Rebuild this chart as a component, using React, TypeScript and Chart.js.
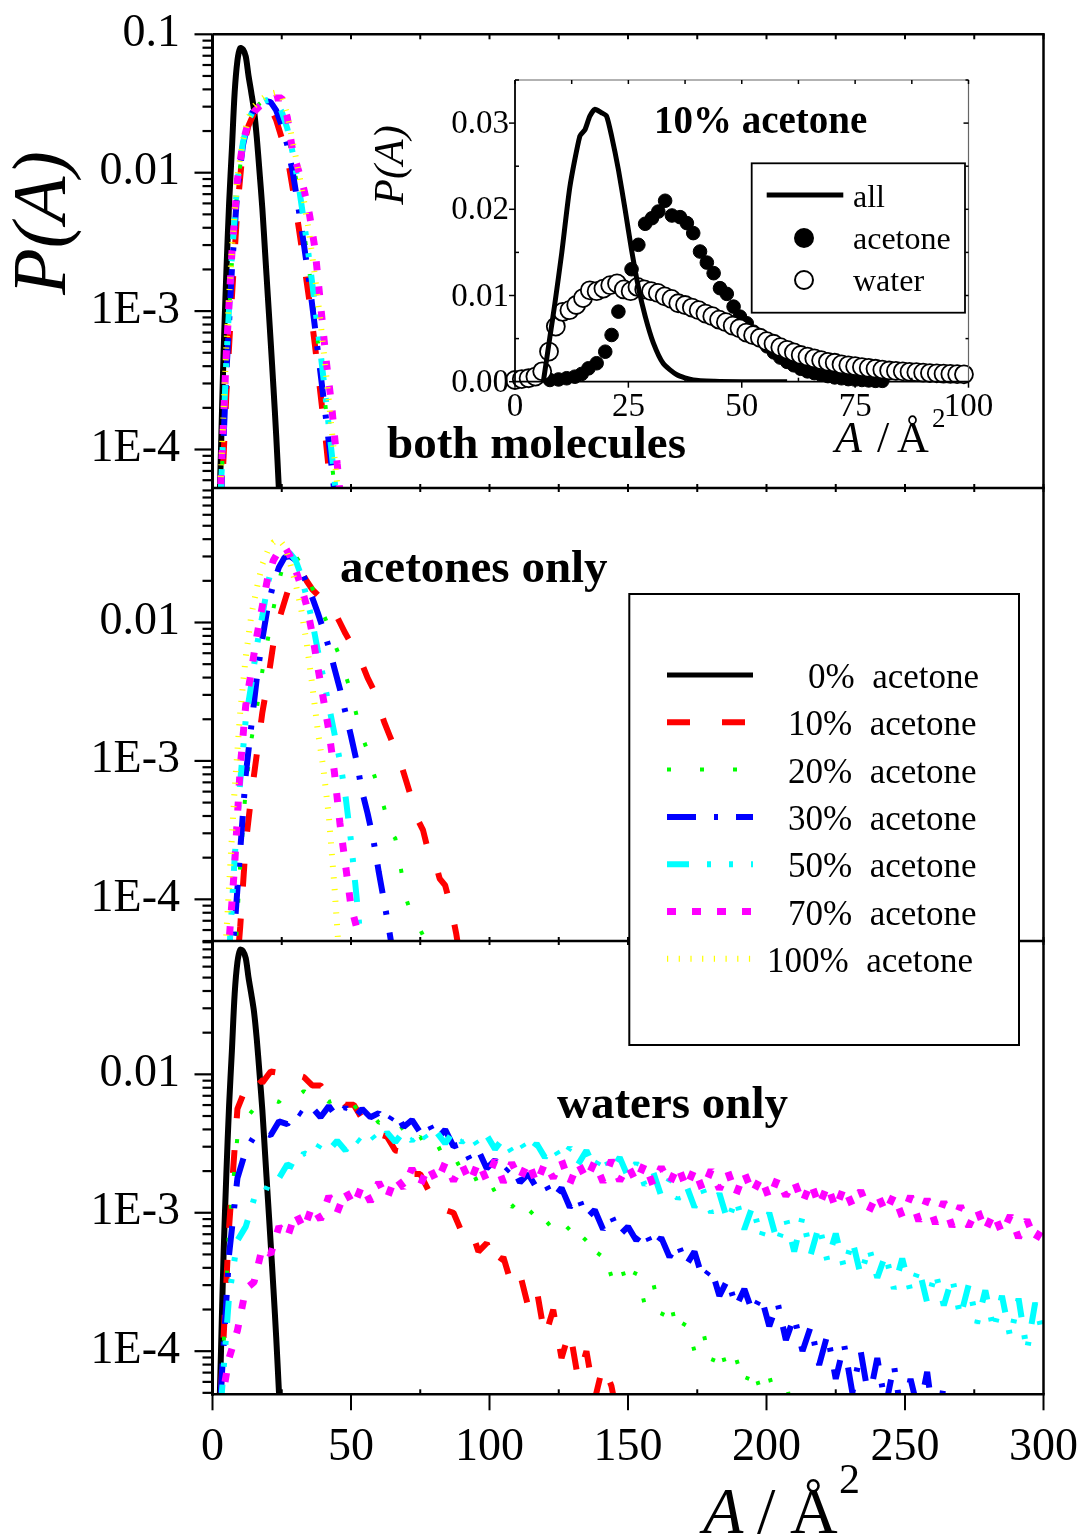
import { useEffect, useRef } from "react";
import { Chart, registerables } from "chart.js";

Chart.register(...registerables);

const SERIF = "'Liberation Serif', 'Times New Roman', Times, serif";
const CANVAS_W = 1086;
const CANVAS_H = 1539;

// ---------------- data ----------------
// Surface-area distributions P(A); main panels are stored as decimal exponents (log10 P)

// pure water (0% acetone), shared by "both molecules" and "waters only"
const pureA = [2, 3, 4, 5, 6, 7, 8, 9, 10, 11, 12, 13, 14, 15, 16, 17, 18, 19, 20, 21, 22, 23, 24, 25];
const pureWaterExp = [-4.8, -4.05, -3.3, -2.72, -2.22, -1.83, -1.42, -1.19, -1.1, -1.11, -1.16, -1.3, -1.42, -1.55, -1.75, -2.0, -2.26, -2.58, -2.9, -3.22, -3.55, -3.9, -4.3, -4.7];

// both molecules
const bothA = [3, 5, 7, 9, 11, 13, 15, 17, 19, 21, 23, 25, 27, 29, 31, 33, 35, 37, 39, 41, 43, 45, 47];
const both10 = [-4.5, -3.6, -2.9, -2.25, -1.82, -1.66, -1.57, -1.52, -1.49, -1.53, -1.62, -1.75, -1.88, -2.12, -2.38, -2.65, -2.93, -3.25, -3.6, -3.95, -4.35, -4.8, -5.2];
const both20 = [-4.35, -3.4, -2.65, -2.1, -1.8, -1.63, -1.55, -1.5, -1.47, -1.46, -1.5, -1.6, -1.72, -1.9, -2.15, -2.42, -2.72, -3.05, -3.38, -3.72, -4.08, -4.45, -4.85];
const both30 = [-4.4, -3.45, -2.7, -2.12, -1.8, -1.62, -1.54, -1.5, -1.48, -1.49, -1.55, -1.66, -1.8, -2.0, -2.25, -2.52, -2.8, -3.12, -3.45, -3.78, -4.12, -4.5, -4.9];
const both50 = [-4.3, -3.35, -2.6, -2.06, -1.78, -1.62, -1.54, -1.5, -1.48, -1.47, -1.49, -1.56, -1.68, -1.86, -2.08, -2.35, -2.64, -2.96, -3.3, -3.65, -4.02, -4.4, -4.8];
const both70 = [-4.25, -3.3, -2.58, -2.05, -1.78, -1.63, -1.56, -1.52, -1.49, -1.47, -1.46, -1.46, -1.6, -1.85, -1.98, -2.12, -2.3, -2.55, -2.95, -3.35, -3.68, -4.1, -4.5];
const both100 = [-4.2, -3.25, -2.55, -2.03, -1.76, -1.6, -1.52, -1.48, -1.45, -1.43, -1.42, -1.45, -1.58, -1.78, -1.98, -2.2, -2.45, -2.75, -3.08, -3.45, -3.85, -4.25, -4.65];

// acetones only
const acetA = [4, 6, 8, 10, 12, 14, 16, 18, 20, 22, 24, 26, 28, 30, 32, 34, 36, 38, 40, 42, 44, 46, 48, 50, 52, 54, 56, 58, 60, 62, 64, 66, 68, 70, 72, 74, 76, 78, 80, 82, 84, 86, 88, 90];
const acet10 = [null, null, -4.7, -4.2, -3.6, -3.25, -2.95, -2.65, -2.42, -2.15, -1.98, -1.85, -1.72, -1.66, -1.63, -1.7, -1.76, -1.8, -1.82, -1.86, -1.92, -2.0, -2.08, -2.15, -2.22, -2.3, -2.4, -2.48, -2.6, -2.72, -2.82, -2.92, -3.02, -3.15, -3.28, -3.42, -3.5, -3.66, -3.7, -3.85, -3.9, -4.05, -4.25, -4.5];
const acet20 = [null, null, -4.5, -3.75, -3.2, -2.85, -2.62, -2.35, -2.12, -1.9, -1.7, -1.55, -1.5, -1.52, -1.58, -1.65, -1.75, -1.84, -1.94, -2.03, -2.15, -2.25, -2.38, -2.5, -2.67, -2.82, -2.93, -3.08, -3.2, -3.34, -3.5, -3.56, -3.78, -4.0, -4.12, -4.18, -4.26, -4.3, -4.35, -4.3, -4.5, -4.7];
const acet30 = [null, -4.6, -4.2, -3.65, -3.1, -2.75, -2.4, -2.12, -1.88, -1.72, -1.6, -1.53, -1.52, -1.55, -1.62, -1.72, -1.82, -1.93, -2.05, -2.18, -2.33, -2.48, -2.65, -2.82, -3.0, -3.22, -3.38, -3.56, -3.8, -4.02, -4.25, -4.5];
const acet50 = [null, -4.4, -3.7, -3.15, -2.7, -2.45, -2.17, -1.95, -1.72, -1.55, -1.48, -1.47, -1.5, -1.55, -1.66, -1.82, -1.99, -2.2, -2.4, -2.6, -2.8, -3.0, -3.25, -3.58, -3.98, -4.4];
const acet70 = [-4.8, -4.3, -3.75, -3.05, -2.6, -2.35, -2.1, -1.88, -1.67, -1.55, -1.48, -1.45, -1.52, -1.62, -1.74, -1.88, -2.08, -2.32, -2.55, -2.78, -3.08, -3.45, -3.75, -4.05, -4.2, -4.5];
const acet100 = [-4.6, -3.9, -3.2, -2.65, -2.25, -1.95, -1.75, -1.58, -1.48, -1.42, -1.4, -1.45, -1.57, -1.72, -1.9, -2.15, -2.45, -2.78, -3.05, -3.4, -3.9, -4.5];

// waters only
const waterA = [3, 6, 9, 12, 15, 18, 21, 24, 27, 30, 33, 36, 39, 42, 45, 48, 51, 54, 57, 60, 63, 66, 69, 72, 75, 78, 81, 84, 87, 90, 93, 96, 99, 102, 105, 108, 111, 114, 117, 120, 123, 126, 129, 132, 135, 138, 141, 144, 147, 150, 153, 156, 159, 162, 165, 168, 171, 174, 177, 180, 183, 186, 189, 192, 195, 198, 201, 204, 207, 210, 213, 216, 219, 222, 225, 228, 231, 234, 237, 240, 243, 246, 249, 252, 255, 258, 261, 264, 267, 270, 273, 276, 279, 282, 285, 288, 291, 294, 297, 300];
const water10 = [-4.3, -3.1, -2.25, -2.1, -2.0, -2.06, -1.98, -1.99, -1.95, -2.0,
  -2.02, -2.08, -2.08, -2.16, -2.15, -2.22, -2.22, -2.32, -2.33, -2.43,
  -2.45, -2.55, -2.56, -2.72, -2.72, -2.84, -2.85, -2.98, -3.0, -3.14,
  -3.1, -3.28, -3.22, -3.4, -3.32, -3.52, -3.44, -3.68, -3.55, -3.9,
  -3.7, -4.05, -3.85, -4.2, -4.0, -4.35, -4.1, -4.25, -4.55];
const water20 = [-4.4, -3.1, -2.45, -2.32, -2.25, -2.24, -2.18, -2.2, -2.13, -2.17,
  -2.12, -2.18, -2.15, -2.2, -2.18, -2.25, -2.22, -2.3, -2.27, -2.35,
  -2.33, -2.42, -2.38, -2.5, -2.45, -2.56, -2.5, -2.62, -2.58, -2.7,
  -2.66, -2.8, -2.74, -2.85, -2.83, -2.96, -2.9, -3.02, -2.96, -3.1,
  -3.05, -3.16, -3.1, -3.24, -3.18, -3.34, -3.26, -3.46, -3.35, -3.55,
  -3.42, -3.66, -3.5, -3.75, -3.62, -3.88, -3.78, -4.0, -3.85, -4.1,
  -3.95, -4.15, -4.05, -4.25, -4.1, -4.3, -4.18, -4.4, -4.22, -4.5];
const water30 = [-4.3, -3.3, -2.75, -2.55, -2.45, -2.42, -2.44, -2.34, -2.36, -2.26,
  -2.3, -2.24, -2.31, -2.23, -2.31, -2.24, -2.32, -2.25, -2.31, -2.28,
  -2.36, -2.27, -2.38, -2.33, -2.42, -2.35, -2.47, -2.4, -2.52, -2.5,
  -2.62, -2.55, -2.68, -2.62, -2.72, -2.66, -2.78, -2.72, -2.82, -2.78,
  -2.9, -2.82, -2.96, -2.88, -3.04, -2.98, -3.12, -3.02, -3.16, -3.1,
  -3.2, -3.12, -3.26, -3.18, -3.32, -3.22, -3.38, -3.28, -3.48, -3.4,
  -3.6, -3.48, -3.68, -3.55, -3.72, -3.6, -3.82, -3.65, -3.92, -3.75,
  -4.0, -3.82, -4.1, -3.88, -4.2, -3.95, -4.3, -4.0, -4.35, -4.05,
  -4.4, -4.1, -4.5, -4.2, -4.45, -4.15, -4.6, -4.25];
const water50 = [-4.4, -3.6, -3.2, -3.1, -2.9, -2.9, -2.75, -2.75, -2.65, -2.68,
  -2.57, -2.6, -2.5, -2.55, -2.48, -2.55, -2.45, -2.5, -2.43, -2.5,
  -2.42, -2.49, -2.41, -2.48, -2.4, -2.49, -2.42, -2.5, -2.41, -2.49,
  -2.43, -2.52, -2.44, -2.54, -2.46, -2.56, -2.48, -2.58, -2.5, -2.6,
  -2.52, -2.62, -2.53, -2.65, -2.55, -2.68, -2.57, -2.7, -2.6, -2.74,
  -2.64, -2.8, -2.7, -2.88, -2.76, -2.9, -2.8, -2.96, -2.83, -3.0,
  -2.86, -3.06, -2.9, -3.12, -2.95, -3.18, -3.0, -3.22, -3.04, -3.28,
  -3.03, -3.3, -3.09, -3.35, -3.15, -3.4, -3.2, -3.45, -3.25, -3.47,
  -3.3, -3.55, -3.33, -3.57, -3.4, -3.65, -3.43, -3.67, -3.47, -3.75,
  -3.52, -3.8, -3.56, -3.85, -3.6, -3.9, -3.62, -4.0, -3.65, -3.9];
const water70 = [-4.4, -4.05, -3.85, -3.55, -3.5, -3.25, -3.3, -3.1, -3.18, -3.0,
  -3.12, -2.95, -3.05, -2.88, -3.0, -2.84, -2.95, -2.8, -2.92, -2.78,
  -2.9, -2.74, -2.82, -2.68, -2.8, -2.66, -2.78, -2.64, -2.77, -2.65,
  -2.78, -2.63, -2.77, -2.62, -2.78, -2.64, -2.76, -2.63, -2.79, -2.64,
  -2.75, -2.62, -2.79, -2.64, -2.76, -2.63, -2.78, -2.62, -2.77, -2.66,
  -2.78, -2.64, -2.8, -2.67, -2.79, -2.66, -2.82, -2.68, -2.84, -2.69,
  -2.83, -2.7, -2.87, -2.71, -2.86, -2.74, -2.9, -2.75, -2.88, -2.77,
  -2.93, -2.78, -2.95, -2.8, -2.97, -2.81, -2.95, -2.84, -2.99, -2.86,
  -3.0, -2.87, -3.03, -2.88, -3.06, -2.9, -3.08, -2.92, -3.1, -2.95,
  -3.1, -2.97, -3.13, -3.0, -3.15, -3.02, -3.18, -3.05, -3.2, -3.1];

// inset: 10% acetone, linear P(A)
const insetAllA = [6.25, 7.7, 8.8, 10.3, 12.1, 14.3, 15.4, 16.5, 17.6, 19.1, 20.2, 21.3, 22.8, 24.3, 25.7, 27.2, 28.7, 30.5, 32.7, 35.7, 39.3, 44, 50, 60];
const insetAllP = [0, 0.0052, 0.0091, 0.0149, 0.0226, 0.0285, 0.0292, 0.0308, 0.0316, 0.0312, 0.0308, 0.0285, 0.0246, 0.0199, 0.0153, 0.011, 0.0076, 0.0045, 0.0021, 0.0008, 0.0002, 0.00005, 0, 0];
const insetAcetA = [7.7, 9.6, 11.4, 13.2, 14.7, 16.2, 18.0, 19.9, 21.3, 22.8, 24.2, 25.7, 27.2, 28.7, 30.2, 31.6, 33.1, 34.6, 36.4, 37.9, 39.3, 40.8, 42.3, 43.8, 45.2, 46.7, 48.2, 49.6, 51.1, 52.6, 54.1, 55.6, 57.1, 58.5, 60.0, 61.5, 63.0, 64.5, 66.0, 67.5, 69.0, 70.5, 72.0, 73.5, 75.0, 76.5, 78.0, 79.5, 81.0];
const insetAcetP = [0.0002, 0.00026, 0.0004, 0.00058, 0.0009, 0.00155, 0.00214, 0.00348, 0.00542, 0.00813, 0.0106, 0.01305, 0.01588, 0.01832, 0.01897, 0.01974, 0.02099, 0.01928, 0.01909, 0.0184, 0.01724, 0.0151, 0.01382, 0.01259, 0.01085, 0.01019, 0.00871, 0.00755, 0.00678, 0.0058, 0.0049, 0.0041, 0.0034, 0.0028, 0.0023, 0.0019, 0.0015, 0.0012, 0.001, 0.0008, 0.00065, 0.0005, 0.0004, 0.0003, 0.00025, 0.0002, 0.00015, 0.0001, 0.0001];
const insetWaterA = [0, 1.5, 3, 4.5, 6, 7.5, 9, 10.5, 12, 13.5, 15, 16.5, 18, 19.5, 21, 22.5, 24, 25.5, 27, 28.5, 30, 31.5, 33, 34.5, 36, 37.5, 39, 40.5, 42, 43.5, 45, 46.5, 48, 49.5, 51, 52.5, 54, 55.5, 57, 58.5, 60, 61.5, 63, 64.5, 66, 67.5, 69, 70.5, 72, 73.5, 75, 76.5, 78, 79.5, 81, 82.5, 84, 85.5, 87, 88.5, 90, 91.5, 93, 94.5, 96, 97.5, 99];
const insetWaterP = [0.0002, 0.0003, 0.0004, 0.0006, 0.0012, 0.0035, 0.0064, 0.0081, 0.0083, 0.0089,
  0.0097, 0.0106, 0.0105, 0.0108, 0.0112, 0.0114, 0.0107, 0.0105, 0.011, 0.0107,
  0.0105, 0.0103, 0.0099, 0.0096, 0.0091, 0.0089, 0.0086, 0.0083, 0.0079, 0.0076,
  0.0072, 0.0069, 0.0065, 0.0062, 0.0057, 0.0054, 0.0051, 0.0047, 0.0044, 0.004,
  0.0037, 0.0034, 0.0031, 0.0029, 0.0027, 0.0025, 0.0023, 0.0022, 0.002, 0.0019,
  0.0018, 0.0017, 0.0016, 0.0015, 0.0014, 0.0013, 0.00125, 0.0012, 0.00115, 0.0011,
  0.00105, 0.001, 0.00097, 0.00093, 0.0009, 0.00087, 0.00085];

// tick labels
const decadeLabels: [number, string][] = [[0.1, "0.1"], [0.01, "0.01"], [1e-3, "1E-3"], [1e-4, "1E-4"]];
const areaTickLabels = [0, 50, 100, 150, 200, 250, 300];
const insetYLabels: [number, string][] = [[0, "0.00"], [0.01, "0.01"], [0.02, "0.02"], [0.03, "0.03"]];
const insetXLabels = [0, 25, 50, 75, 100];
const seriesNames = ["0%  acetone", "10%  acetone", "20%  acetone", "30%  acetone", "50%  acetone", "70%  acetone", "100%  acetone"];

// ---------------- styling / layout ----------------
type LineStyle = { color: string; width: number; dash: number[] };
const STYLES: LineStyle[] = [
  { color: "#000000", width: 6, dash: [] },
  { color: "#ff0000", width: 6, dash: [23, 32] },
  { color: "#00ff00", width: 4, dash: [4, 29] },
  { color: "#0000ff", width: 6, dash: [29, 18, 4, 18] },
  { color: "#00ffff", width: 6, dash: [22, 18, 4, 18, 4, 18] },
  { color: "#ff00ff", width: 7, dash: [9, 16] },
  { color: "#ffff00", width: 6, dash: [1.2, 10.5] },
];
const LEGEND_TEXT_X = [808, 788, 788, 788, 788, 788, 767];

const FRAME_LEFT = 212.5;
const FRAME_RIGHT = 1043.5;
const PANELS = [
  { top: 34.3, bottom: 488, min: 5.27e-5, max: 0.1, title: "both molecules", tx: 387, ty: 458 },
  { top: 488, bottom: 941, min: 5.0e-5, max: 0.0937, title: "acetones only", tx: 340, ty: 582 },
  { top: 941, bottom: 1394.3, min: 4.88e-5, max: 0.0919, title: "waters only", tx: 557, ty: 1118 },
];
const INSET = { left: 515, right: 968.5, top: 80, bottom: 381.7 };

function decadePoints(xs: number[], exps: (number | null)[]) {
  const pts: { x: number; y: number }[] = [];
  for (let i = 0; i < exps.length; i++) {
    const e = exps[i];
    if (e === null) continue;
    pts.push({ x: xs[i], y: Math.pow(10, e) });
  }
  return pts;
}

function linearPoints(xs: number[], ys: number[]) {
  return ys.map((y, i) => ({ x: xs[i], y }));
}

function lineSet(label: string, data: { x: number; y: number }[], s: LineStyle, order: number, tension = 0) {
  return {
    label,
    data,
    borderColor: s.color,
    backgroundColor: s.color,
    borderWidth: s.width,
    borderDash: s.dash,
    borderCapStyle: "butt",
    borderJoinStyle: "bevel",
    pointRadius: 0,
    tension,
    fill: false,
    clip: 0,
    order,
  };
}

function seg(ctx: CanvasRenderingContext2D, x1: number, y1: number, x2: number, y2: number) {
  ctx.beginPath();
  ctx.moveTo(x1, y1);
  ctx.lineTo(x2, y2);
  ctx.stroke();
}

function drawMainLegend(ctx: CanvasRenderingContext2D) {
  ctx.save();
  ctx.fillStyle = "#fff";
  ctx.fillRect(629.3, 594, 389.7, 451);
  ctx.strokeStyle = "#000";
  ctx.lineWidth = 2;
  ctx.setLineDash([]);
  ctx.strokeRect(629.3, 594, 389.7, 451);
  ctx.font = `35px ${SERIF}`;
  ctx.textAlign = "left";
  ctx.textBaseline = "alphabetic";
  for (let i = 0; i < STYLES.length; i++) {
    const y = 675 + 47.3 * i;
    const s = STYLES[i];
    ctx.strokeStyle = s.color;
    ctx.lineWidth = i === 0 ? 5 : s.width;
    ctx.lineCap = "butt";
    ctx.setLineDash(s.dash);
    seg(ctx, 667, y, 753, y);
    ctx.setLineDash([]);
    ctx.fillStyle = "#000";
    ctx.fillText(seriesNames[i], LEGEND_TEXT_X[i], y + 13);
  }
  ctx.restore();
}

// "A / Å²" axis title, pieces placed at the given x positions
function drawAreaTitle(ctx: CanvasRenderingContext2D, xs: number[], base: number, size: number, supSize: number, supRaise: number) {
  ctx.textAlign = "left";
  ctx.textBaseline = "alphabetic";
  ctx.font = `italic ${size}px ${SERIF}`;
  ctx.fillText("A", xs[0], base);
  ctx.font = `${size}px ${SERIF}`;
  ctx.fillText("/", xs[1], base);
  ctx.fillText("Å", xs[2], base);
  ctx.font = `${supSize}px ${SERIF}`;
  ctx.fillText("2", xs[3], base - supRaise);
}

function panelDecor(index: number) {
  const p = PANELS[index];
  return {
    id: `panelDecor${index}`,
    afterDraw(chart: any) {
      const ctx: CanvasRenderingContext2D = chart.ctx;
      const a = chart.chartArea;
      const xs = chart.scales.x;
      const ys = chart.scales.y;
      ctx.save();
      ctx.strokeStyle = "#000";
      ctx.fillStyle = "#000";
      ctx.lineCap = "butt";
      ctx.setLineDash([]);

      // decade ticks outside the left axis
      ctx.lineWidth = 2.2;
      for (let e = -5; e <= -1; e++) {
        for (let m = 1; m <= 9; m++) {
          const v = m * Math.pow(10, e);
          if (v < ys.min || v > ys.max * 1.0001) continue;
          const py = ys.getPixelForValue(v);
          seg(ctx, a.left, py, a.left - (m === 1 ? 18 : 10), py);
        }
      }
      ctx.font = `46px ${SERIF}`;
      ctx.textAlign = "right";
      ctx.textBaseline = "alphabetic";
      for (const [v, text] of decadeLabels) {
        if (v < ys.min || v > ys.max * 1.0001) continue;
        ctx.fillText(text, 180, ys.getPixelForValue(v) + 11.5);
      }

      // area ticks
      ctx.lineWidth = 2;
      for (let v = 0; v <= 300; v += 25) {
        const px = xs.getPixelForValue(v);
        if (index === 0) seg(ctx, px, a.top, px, a.top + 5);
        if (index < 2) {
          seg(ctx, px, a.bottom - 4, px, a.bottom + 4);
        } else if (v % 50 === 0) {
          seg(ctx, px, a.bottom, px, a.bottom + 16);
        } else {
          seg(ctx, px, a.bottom, px, a.bottom - 5);
        }
      }

      // frame
      ctx.lineWidth = 3;
      seg(ctx, a.left, a.top, a.left, a.bottom + 1.5);
      ctx.lineWidth = 2.5;
      seg(ctx, a.right, a.top, a.right, a.bottom);
      seg(ctx, a.left, a.bottom, a.right + 1.25, a.bottom);
      if (index === 0) seg(ctx, a.left, a.top, a.right + 1.25, a.top);

      // panel caption
      ctx.font = `bold 47px ${SERIF}`;
      ctx.textAlign = "left";
      ctx.fillText(p.title, p.tx, p.ty);

      if (index === 0) {
        ctx.save();
        ctx.translate(45, 223);
        ctx.rotate(-Math.PI / 2);
        ctx.font = `italic 76px ${SERIF}`;
        ctx.textAlign = "center";
        ctx.textBaseline = "middle";
        ctx.fillText("P(A)", 0, 0);
        ctx.restore();
      }

      if (index === 2) {
        ctx.font = `46px ${SERIF}`;
        ctx.textAlign = "center";
        for (const v of areaTickLabels) {
          ctx.fillText(String(v), xs.getPixelForValue(v), 1460);
        }
        drawAreaTitle(ctx, [703, 757, 790, 839], 1533, 66, 42, 40);
        drawMainLegend(ctx);
      }
      ctx.restore();
    },
  };
}

const insetDecor = {
  id: "insetDecor",
  afterDraw(chart: any) {
    const ctx: CanvasRenderingContext2D = chart.ctx;
    const a = chart.chartArea;
    const xs = chart.scales.x;
    const ys = chart.scales.y;
    ctx.save();
    ctx.setLineDash([]);
    ctx.lineCap = "butt";

    // light top / right border
    ctx.strokeStyle = "#666";
    ctx.lineWidth = 1.2;
    seg(ctx, a.left, a.top, a.right, a.top);
    seg(ctx, a.right, a.top, a.right, a.bottom);

    ctx.strokeStyle = "#000";
    ctx.lineWidth = 1.5;
    for (let v = 0; v <= 0.0351; v += 0.005) {
      const py = ys.getPixelForValue(v);
      const major = Math.abs(v / 0.01 - Math.round(v / 0.01)) < 1e-6;
      if (major) {
        seg(ctx, a.left - 6, py, a.left, py);
        seg(ctx, a.right - 5, py, a.right, py);
      } else {
        seg(ctx, a.left, py, a.left + 4, py);
        seg(ctx, a.right - 3, py, a.right, py);
      }
    }
    for (let v = 0; v <= 100.01; v += 12.5) {
      const px = xs.getPixelForValue(v);
      if (v % 25 === 0) seg(ctx, px, a.bottom, px, a.bottom + 6);
      else seg(ctx, px, a.bottom, px, a.bottom - 4);
      seg(ctx, px, a.top, px, a.top + 4);
    }
    ctx.lineWidth = 1.8;
    seg(ctx, a.left, a.top, a.left, a.bottom);
    seg(ctx, a.left, a.bottom, a.right, a.bottom);

    ctx.fillStyle = "#000";
    ctx.font = `33px ${SERIF}`;
    ctx.textAlign = "right";
    ctx.textBaseline = "alphabetic";
    for (const [v, t] of insetYLabels) ctx.fillText(t, 509, ys.getPixelForValue(v) + 10);
    ctx.textAlign = "center";
    for (const v of insetXLabels) ctx.fillText(String(v), xs.getPixelForValue(v), 416);

    drawAreaTitle(ctx, [835, 877, 897, 932], 452, 44, 27, 25);

    ctx.save();
    ctx.translate(392, 165);
    ctx.rotate(-Math.PI / 2);
    ctx.font = `italic 42px ${SERIF}`;
    ctx.textAlign = "center";
    ctx.textBaseline = "middle";
    ctx.fillText("P(A)", 0, 0);
    ctx.restore();

    ctx.font = `bold 39px ${SERIF}`;
    ctx.textAlign = "left";
    ctx.fillText("10% acetone", 654, 133);

    // inset legend
    ctx.fillStyle = "#fff";
    ctx.fillRect(751.7, 163.3, 213.3, 149.4);
    ctx.strokeStyle = "#000";
    ctx.lineWidth = 1.8;
    ctx.strokeRect(751.7, 163.3, 213.3, 149.4);
    ctx.lineWidth = 5;
    seg(ctx, 766.7, 195, 843.3, 195);
    ctx.fillStyle = "#000";
    ctx.beginPath();
    ctx.arc(804, 238, 10, 0, Math.PI * 2);
    ctx.fill();
    ctx.beginPath();
    ctx.arc(804, 280, 9, 0, Math.PI * 2);
    ctx.fillStyle = "#fff";
    ctx.fill();
    ctx.lineWidth = 2;
    ctx.stroke();
    ctx.fillStyle = "#000";
    ctx.font = `32px ${SERIF}`;
    ctx.textAlign = "left";
    ctx.fillText("all", 853, 207);
    ctx.fillText("acetone", 853, 249);
    ctx.fillText("water", 853, 291);
    ctx.restore();
  },
};

function panelConfig(index: number, datasets: any[]): any {
  const p = PANELS[index];
  return {
    type: "line",
    data: { datasets },
    options: {
      responsive: false,
      animation: false,
      devicePixelRatio: 1,
      events: [],
      layout: { padding: { left: FRAME_LEFT, right: CANVAS_W - FRAME_RIGHT, top: p.top, bottom: CANVAS_H - p.bottom } },
      scales: {
        x: { type: "linear", min: 0, max: 300, bounds: "data", display: false },
        y: { type: "logarithmic", min: p.min, max: p.max, bounds: "data", display: false },
      },
      plugins: { legend: { display: false }, tooltip: { enabled: false } },
    },
    plugins: [panelDecor(index)],
  };
}

function insetConfig(): any {
  return {
    type: "line",
    data: {
      datasets: [
        { ...lineSet("all", linearPoints(insetAllA, insetAllP), { color: "#000", width: 5, dash: [] }, 0, 0.2), borderJoinStyle: "round" },
        {
          label: "water",
          data: linearPoints(insetWaterA, insetWaterP),
          showLine: false,
          pointRadius: 9,
          pointBackgroundColor: "#fff",
          pointBorderColor: "#000",
          pointBorderWidth: 1.8,
          clip: false,
          order: 1,
        },
        {
          label: "acetone",
          data: linearPoints(insetAcetA, insetAcetP),
          showLine: false,
          pointRadius: 6.8,
          pointBackgroundColor: "#000",
          pointBorderColor: "#000",
          pointBorderWidth: 1,
          clip: false,
          order: 2,
        },
      ],
    },
    options: {
      responsive: false,
      animation: false,
      devicePixelRatio: 1,
      events: [],
      layout: { padding: { left: INSET.left, right: CANVAS_W - INSET.right, top: INSET.top, bottom: CANVAS_H - INSET.bottom } },
      scales: {
        x: { type: "linear", min: 0, max: 100, bounds: "data", display: false },
        y: { type: "linear", min: 0, max: 0.035, bounds: "data", display: false },
      },
      plugins: { legend: { display: false }, tooltip: { enabled: false } },
    },
    plugins: [insetDecor],
  };
}

export default function App() {
  const topRef = useRef<HTMLCanvasElement>(null);
  const midRef = useRef<HTMLCanvasElement>(null);
  const botRef = useRef<HTMLCanvasElement>(null);
  const insetRef = useRef<HTMLCanvasElement>(null);

  useEffect(() => {
    const pure = decadePoints(pureA, pureWaterExp);
    const topSets = [
      { ...lineSet(seriesNames[0], pure, STYLES[0], 6, 0.3), borderJoinStyle: "round" },
      lineSet(seriesNames[1], decadePoints(bothA, both10), STYLES[1], 5),
      lineSet(seriesNames[2], decadePoints(bothA, both20), STYLES[2], 4),
      lineSet(seriesNames[3], decadePoints(bothA, both30), STYLES[3], 3),
      lineSet(seriesNames[4], decadePoints(bothA, both50), STYLES[4], 2),
      lineSet(seriesNames[5], decadePoints(bothA, both70), STYLES[5], 1),
      lineSet(seriesNames[6], decadePoints(bothA, both100), STYLES[6], 0),
    ];
    const midSets = [
      lineSet(seriesNames[1], decadePoints(acetA, acet10), STYLES[1], 5),
      lineSet(seriesNames[2], decadePoints(acetA, acet20), STYLES[2], 4),
      lineSet(seriesNames[3], decadePoints(acetA, acet30), STYLES[3], 3),
      lineSet(seriesNames[4], decadePoints(acetA, acet50), STYLES[4], 2),
      lineSet(seriesNames[5], decadePoints(acetA, acet70), STYLES[5], 1),
      lineSet(seriesNames[6], decadePoints(acetA, acet100), STYLES[6], 0),
    ];
    const botSets = [
      { ...lineSet(seriesNames[0], pure, STYLES[0], 6, 0.3), borderJoinStyle: "round" },
      lineSet(seriesNames[1], decadePoints(waterA, water10), STYLES[1], 5),
      lineSet(seriesNames[2], decadePoints(waterA, water20), STYLES[2], 4),
      lineSet(seriesNames[3], decadePoints(waterA, water30), STYLES[3], 3),
      lineSet(seriesNames[4], decadePoints(waterA, water50), STYLES[4], 2),
      lineSet(seriesNames[5], decadePoints(waterA, water70), STYLES[5], 1),
    ];
    const charts = [
      new Chart(topRef.current!, panelConfig(0, topSets)),
      new Chart(midRef.current!, panelConfig(1, midSets)),
      new Chart(botRef.current!, panelConfig(2, botSets)),
      new Chart(insetRef.current!, insetConfig()),
    ];
    return () => charts.forEach((c) => c.destroy());
  }, []);

  const layer = { position: "absolute" as const, left: 0, top: 0, width: CANVAS_W, height: CANVAS_H };
  return (
    <div style={{ position: "absolute", left: 0, top: 0, width: CANVAS_W, height: CANVAS_H, background: "#fff" }}>
      <canvas ref={topRef} width={CANVAS_W} height={CANVAS_H} style={layer} />
      <canvas ref={midRef} width={CANVAS_W} height={CANVAS_H} style={layer} />
      <canvas ref={botRef} width={CANVAS_W} height={CANVAS_H} style={layer} />
      <canvas ref={insetRef} width={CANVAS_W} height={CANVAS_H} style={layer} />
    </div>
  );
}
